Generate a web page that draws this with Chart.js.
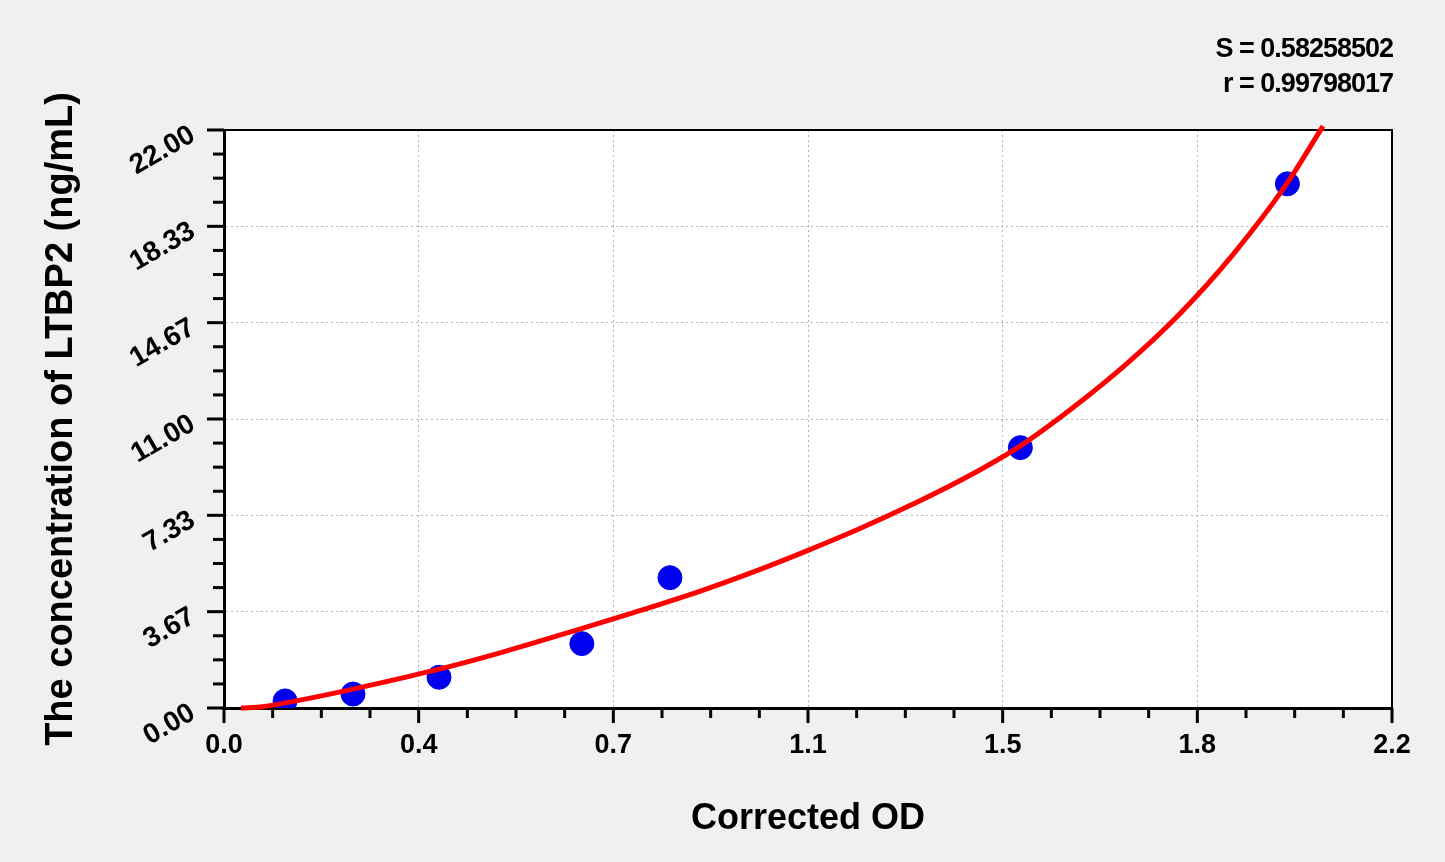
<!DOCTYPE html>
<html>
<head>
<meta charset="utf-8">
<script src="https://cdn.jsdelivr.net/npm/chart.js@4.4.1/dist/chart.umd.min.js"></script>
<style>
	body { margin: 0; background: #f0f0f0; }
	canvas { display: block; }
</style>
</head>
<body>
<canvas id="mycanvas" width="1445" height="862"></canvas>
<script>
// standards
var stdOD = [0.115, 0.243, 0.405, 0.674, 0.840, 1.500, 2.003];
var stdConc = [0.27, 0.53, 1.17, 2.45, 4.96, 9.91, 19.95];

// fitted curve
var fitOD = [0.032, 0.073, 0.143, 0.243, 0.394, 0.520, 0.670, 0.770, 0.900, 1.000, 1.100, 1.200, 1.300, 1.400, 1.500, 1.600, 1.700, 1.800, 1.900, 2.000, 2.070];
var fitConc = [0.00, 0.05, 0.30, 0.72, 1.42, 2.10, 3.00, 3.62, 4.47, 5.20, 6.00, 6.85, 7.78, 8.80, 9.98, 11.45, 13.10, 15.00, 17.25, 19.90, 22.15];

var xTickValues = [0, 0.36667, 0.73333, 1.1, 1.46667, 1.83333, 2.2];
var xTickLabels = ['0.0', '0.4', '0.7', '1.1', '1.5', '1.8', '2.2'];
var yTickValues = [0, 3.66667, 7.33333, 11, 14.66667, 18.33333, 22];
var yTickLabels = ['0.00', '3.67', '7.33', '11.00', '14.67', '18.33', '22.00'];

var statLines = ['S = 0.58258502', 'r = 0.99798017'];

var FONT = "'Liberation Sans', Arial, sans-serif";

var fitPoints = [];
for (var i in fitOD) fitPoints.push({x: fitOD[i], y: fitConc[i]});
var stdPoints = [];
for (var j in stdOD) stdPoints.push({x: stdOD[j], y: stdConc[j]});

var plotArea = {
	id: 'plotArea',
	beforeDraw: function(chart) {
		var c = chart.ctx, a = chart.chartArea;
		c.save();
		c.fillStyle = '#ffffff';
		c.fillRect(a.left, a.top, a.right - a.left, a.bottom - a.top);
		c.restore();
	},
	beforeDatasetsDraw: function(chart) {
		var c = chart.ctx, a = chart.chartArea;
		c.save();
		c.strokeStyle = '#000';
		c.lineWidth = 2;
		c.beginPath();
		c.moveTo(a.left, a.top);
		c.lineTo(a.right, a.top);
		c.lineTo(a.right, a.bottom);
		c.stroke();
		c.restore();
	},
	afterDraw: function(chart) {
		var c = chart.ctx, a = chart.chartArea;
		var xs = chart.scales.x, ys = chart.scales.y;
		c.save();
		c.strokeStyle = '#000';
		c.lineWidth = 3;
		// tick marks, 3 minor between majors
		for (var k = 0; k <= 24; k++) {
			var px = xs.getPixelForValue(2.2 * k / 24);
			var lx = (k % 4 === 0) ? 15 : 10;
			c.beginPath();
			c.moveTo(px, a.bottom);
			c.lineTo(px, a.bottom + lx);
			c.stroke();
			var py = ys.getPixelForValue(22 * k / 24);
			var ly = (k % 4 === 0) ? 17 : 11;
			c.beginPath();
			c.moveTo(a.left - ly, py);
			c.lineTo(a.left, py);
			c.stroke();
		}
		// rotated y labels
		c.fillStyle = '#000';
		c.font = 'bold 28px ' + FONT;
		c.textAlign = 'right';
		c.textBaseline = 'middle';
		for (var m in yTickValues) {
			var ty = ys.getPixelForValue(yTickValues[m]);
			c.save();
			c.translate(a.left - 31, ty + 3);
			c.rotate(-30 * Math.PI / 180);
			c.fillText(yTickLabels[m], 0, 0);
			c.restore();
		}
		// fit statistics
		c.font = 'bold 27px ' + FONT;
		c.letterSpacing = '-1px';
		c.textBaseline = 'alphabetic';
		c.fillText(statLines[0], 1393, 57);
		c.fillText(statLines[1], 1393, 92);
		c.restore();
	}
};

var ctx = document.getElementById('mycanvas');

var curveChart = new Chart(ctx, {
	type: 'scatter',
	data: {
		datasets: [
			{
				label: 'fit',
				data: fitPoints,
				showLine: true,
				borderColor: '#ff0000',
				borderWidth: 5,
				pointRadius: 0,
				cubicInterpolationMode: 'monotone',
				clip: false,
				order: 1
			},
			{
				label: 'standards',
				data: stdPoints,
				backgroundColor: '#0000f0',
				borderColor: '#0000f0',
				pointRadius: 12,
				pointHoverRadius: 12,
				order: 2
			}
		]
	},
	options: {
		responsive: false,
		animation: false,
		events: [],
		layout: { padding: { left: 0, top: 130, right: 53, bottom: 0 } },
		plugins: {
			legend: { display: false },
			tooltip: { enabled: false }
		},
		scales: {
			x: {
				type: 'linear',
				min: 0,
				max: 2.2,
				afterBuildTicks: function(s) {
					s.ticks = xTickValues.map(function(v) { return {value: v}; });
				},
				afterFit: function(s) { s.height = 154; },
				grid: { color: '#b4b4b4', lineWidth: 1, drawTicks: false },
				border: { color: '#000', width: 3, dash: [2, 3] },
				ticks: {
					color: '#000',
					padding: 21,
					maxRotation: 0,
					autoSkip: false,
					font: { family: FONT, size: 27, weight: 'bold' },
					callback: function(v, i) { return xTickLabels[i]; }
				},
				title: {
					display: true,
					text: 'Corrected OD',
					color: '#000',
					font: { family: FONT, size: 36, weight: 'bold' },
					padding: { top: 0, bottom: 21 }
				}
			},
			y: {
				type: 'linear',
				min: 0,
				max: 22,
				afterBuildTicks: function(s) {
					s.ticks = yTickValues.map(function(v) { return {value: v}; });
				},
				afterFit: function(s) { s.width = 224; },
				grid: { color: '#b4b4b4', lineWidth: 1, drawTicks: false },
				border: { color: '#000', width: 3, dash: [2, 3] },
				ticks: { display: false },
				title: {
					display: true,
					text: 'The concentration of LTBP2 (ng/mL)',
					color: '#000',
					font: { family: FONT, size: 38, weight: 'bold' },
					padding: { top: 39, bottom: 0 }
				}
			}
		}
	},
	plugins: [plotArea]
});
</script>
</body>
</html>
